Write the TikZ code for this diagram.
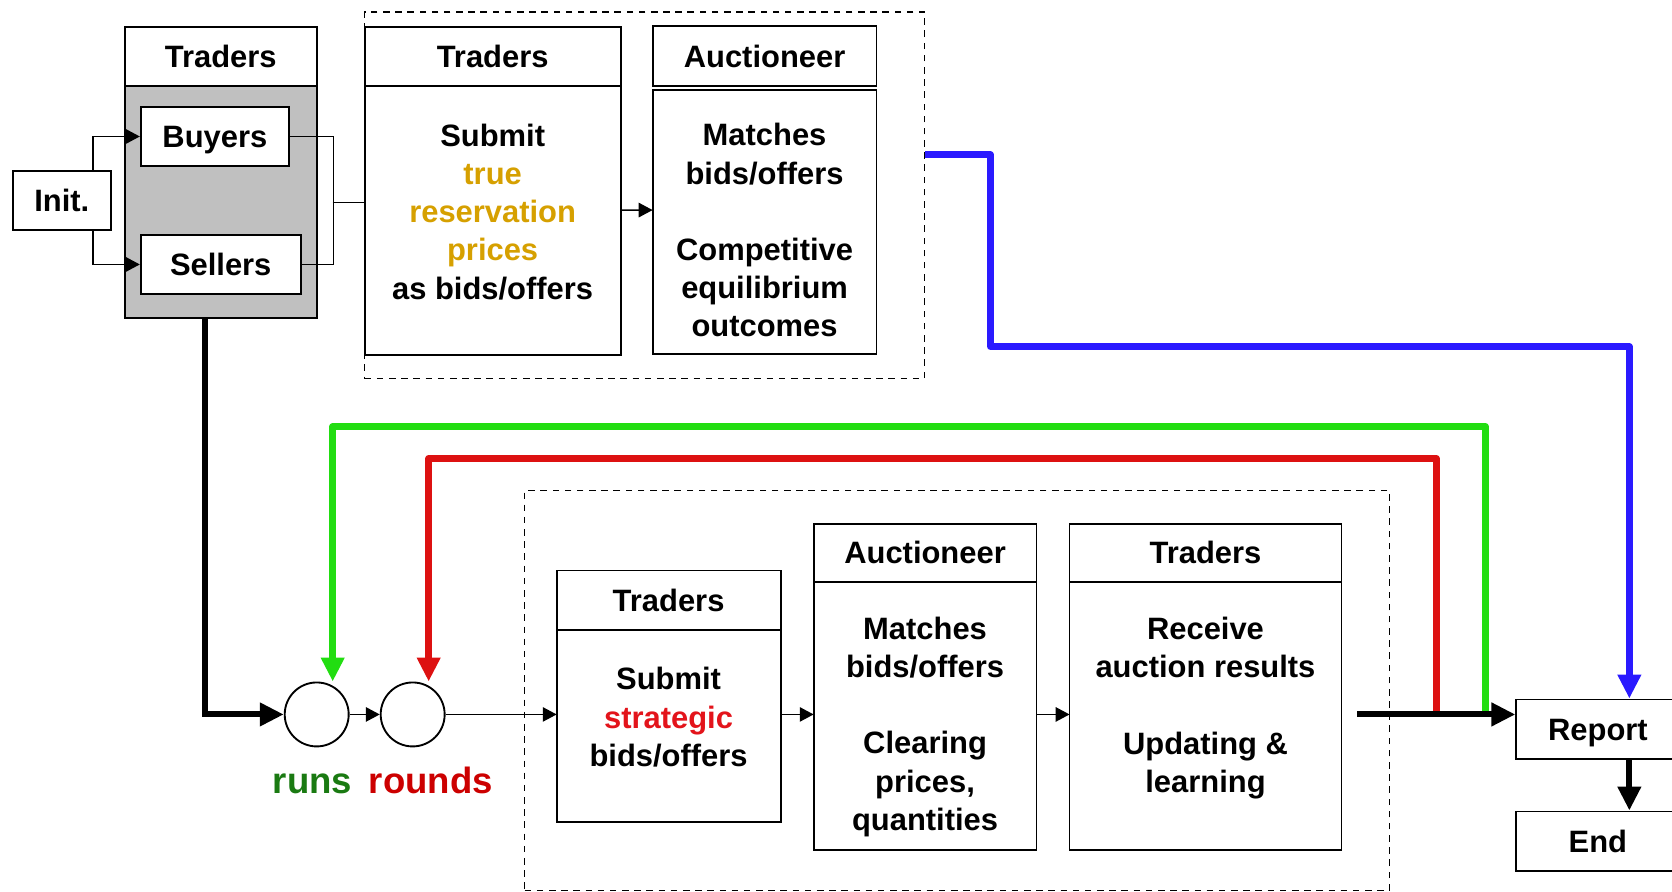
\documentclass[tikz,border=0pt]{standalone}
\usepackage{fontspec}
\setmainfont{Liberation Sans}
\usepackage{xcolor}
\usepackage{tikz}
\usetikzlibrary{positioning, arrows.meta, calc}
\definecolor{BoxGray}{HTML}{C0C0C0}
\definecolor{TrueGold}{HTML}{D6A000}
\definecolor{StratRed}{HTML}{E3141B}
\definecolor{RunGreen}{HTML}{1A7A12}
\definecolor{RoundRed}{HTML}{CC0000}
\definecolor{LoopGreen}{HTML}{22DD11}
\definecolor{LoopRed}{HTML}{DD1111}
\definecolor{ReportBlue}{HTML}{2A1AFF}

\begin{document}
\begin{tikzpicture}[
  >=stealth,
  font=\fontsize{16.5}{20.4}\selectfont\bfseries,
  thinln/.style={line width=0.8pt},
  thinarr/.style={-{Triangle[length=0.26cm, width=0.27cm]}, line width=0.8pt},
  thickarr/.style={-{Triangle[length=0.45cm, width=0.42cm]}, line width=3.2pt},
  grnarr/.style={thickarr, line width=3.6pt, color=LoopGreen, line join=round},
  redarr/.style={thickarr, line width=3.6pt, color=LoopRed, line join=round},
  bluarr/.style={thickarr, line width=3.6pt, color=ReportBlue, line join=round},
  hdrbox/.style={draw, fill=white, line width=1pt, inner sep=2pt, outer sep=0pt},
  bodybox/.style={draw, fill=white, line width=1pt, inner sep=0pt, outer sep=0pt},
  smallbox/.style={draw, fill=white, line width=1pt, inner sep=2pt,
                   minimum height=1.12cm, text height=11.8pt, text depth=0pt},
  grpbox/.style={draw, line width=0.85pt, dash pattern=on 3.5pt off 3pt},
  loopcirc/.style={circle, draw, fill=white, line width=1pt,
                   minimum size=1.2cm, inner sep=0pt},
  txt/.style={align=center, inner sep=0pt},
  looplbl/.style={font=\fontsize{19.5}{22}\selectfont\bfseries, anchor=base, inner sep=0pt},
]
  \useasboundingbox (0,0) rectangle (31.36,-16.72);

  %% dashed groups
  \node[grpbox, minimum width=10.5cm, minimum height=6.88cm] (topgrp) at (12.09,-3.66) {};
  \node[grpbox, minimum width=16.22cm, minimum height=7.5cm] (botgrp) at (17.95,-12.95) {};

  % Traders: buyers and sellers
  \node[hdrbox, minimum width=3.6cm, minimum height=1.12cm] (TLh) at (4.14,-1.06) {Traders};
  \node[bodybox, fill=BoxGray, minimum width=3.6cm, minimum height=4.34cm,
        below=0pt of TLh] (TLb) {};
  \node[smallbox, minimum width=2.78cm] (Buyers) at (4.03,-2.56) {Buyers};
  \node[smallbox, minimum width=3.0cm] (Sellers) at (4.14,-4.96) {Sellers};
  \node[smallbox, minimum width=1.84cm] (Init) at (1.16,-3.76) {Init.};

  % Traders: true prices
  \node[hdrbox, minimum width=4.8cm, minimum height=1.12cm] (T2h) at (9.24,-1.06) {Traders};
  \node[bodybox, minimum width=4.8cm, minimum height=5.04cm, below=0pt of T2h] (T2b) {};
  \node[txt] at ([yshift=0.17cm]T2b.center)
    {Submit\\\textcolor{TrueGold}{true}\\\textcolor{TrueGold}{reservation}\\
     \textcolor{TrueGold}{prices}\\as bids/offers};

  % Auctioneer: competitive outcomes
  \node[hdrbox, minimum width=4.2cm, minimum height=1.14cm] (A1h) at (14.34,-1.05) {Auctioneer};
  \node[bodybox, minimum width=4.2cm, minimum height=4.96cm, below=0.06cm of A1h] (A1b) {};
  \node[txt] at ([yshift=-0.16cm]A1b.center)
    {Matches\\bids/offers\\[20.4pt]Competitive\\equilibrium\\outcomes};

  % runs and rounds
  \node[loopcirc] (runs) at (5.94,-13.4) {};
  \node[loopcirc] (rounds) at (7.74,-13.4) {};
  \node[looplbl, text=RunGreen] (runslbl) at (5.86,-14.88) {runs};
  \node[looplbl, text=RoundRed] (roundslbl) at (8.08,-14.88) {rounds};

  % Traders: strategic bids
  \node[hdrbox, minimum width=4.2cm, minimum height=1.12cm] (T3h) at (12.54,-11.26) {Traders};
  \node[bodybox, minimum width=4.2cm, minimum height=3.6cm, below=0pt of T3h] (T3b) {};
  \node[txt] at ([yshift=0.17cm]T3b.center)
    {Submit\\\textcolor{StratRed}{strategic}\\bids/offers};

  % Auctioneer: clearing
  \node[hdrbox, minimum width=4.18cm, minimum height=1.1cm] (A2h) at (17.35,-10.37) {Auctioneer};
  \node[bodybox, minimum width=4.18cm, minimum height=5.02cm, below=0pt of A2h] (A2b) {};
  \node[txt] at ([yshift=-0.2cm]A2b.center)
    {Matches\\bids/offers\\[20.4pt]Clearing\\prices,\\quantities};

  % Traders: learning
  \node[hdrbox, minimum width=5.1cm, minimum height=1.1cm] (T4h) at (22.61,-10.37) {Traders};
  \node[bodybox, minimum width=5.1cm, minimum height=5.02cm, below=0pt of T4h] (T4b) {};
  \node[txt] at ([yshift=0.15cm]T4b.center)
    {Receive\\auction results\\[20.4pt]Updating \&\\learning};

  % Report and End
  \node[smallbox, minimum width=3.06cm] (Report) at (29.97,-13.68) {Report};
  \node[smallbox, minimum width=3.06cm] (End) at (29.97,-15.78) {End};

  %% thin connectors
  \draw[thinarr] ([xshift=0.58cm]Init.north) |- (Buyers.west);
  \draw[thinarr] ([xshift=0.58cm]Init.south) |- (Sellers.west);
  \draw[thinln] (Buyers.east) -- ++(0.82,0) |- (Sellers.east);
  \coordinate (mrg) at (6.24,-3.8);
  \draw[thinln] (mrg) -- (mrg -| T2b.west);
  \draw[thinarr] ([yshift=0.2cm]T2b.east) -- ([yshift=0.22cm]A1b.west);
  \draw[thinarr] (runs.east) -- (rounds.west);
  \draw[thinarr] (rounds.east) -- (rounds.east -| T3b.west);
  \draw[thinarr] (T3b.east |- runs) -- (A2b.west |- runs);
  \draw[thinarr] (A2b.east |- runs) -- (T4b.west |- runs);

  %% loops back
  \coordinate (rsrc) at (26.94,-13.4);
  \coordinate (gsrc) at (27.86,-13.4);
  \coordinate (outsrc) at (25.46,-13.4);
  \draw[grnarr] (gsrc) -- ++(0,5.4) -| ([xshift=0.3cm]runs.north);
  \draw[redarr] (rsrc) -- ++(0,4.8) -| ([xshift=0.3cm]rounds.north);

  %% thick flow
  \draw[thickarr] ([xshift=-0.3cm]TLb.south) |- (runs.west);
  \draw[thickarr] (outsrc) -- (Report.west |- outsrc);
  \draw[thickarr] ([xshift=0.59cm]Report.south) -- ([xshift=0.59cm]End.north);
  \draw[bluarr] ([yshift=0.76cm]topgrp.east) -- ++(1.22,0) -- ++(0,-3.6)
    -| ([xshift=0.59cm]Report.north);

\end{tikzpicture}
\end{document}
